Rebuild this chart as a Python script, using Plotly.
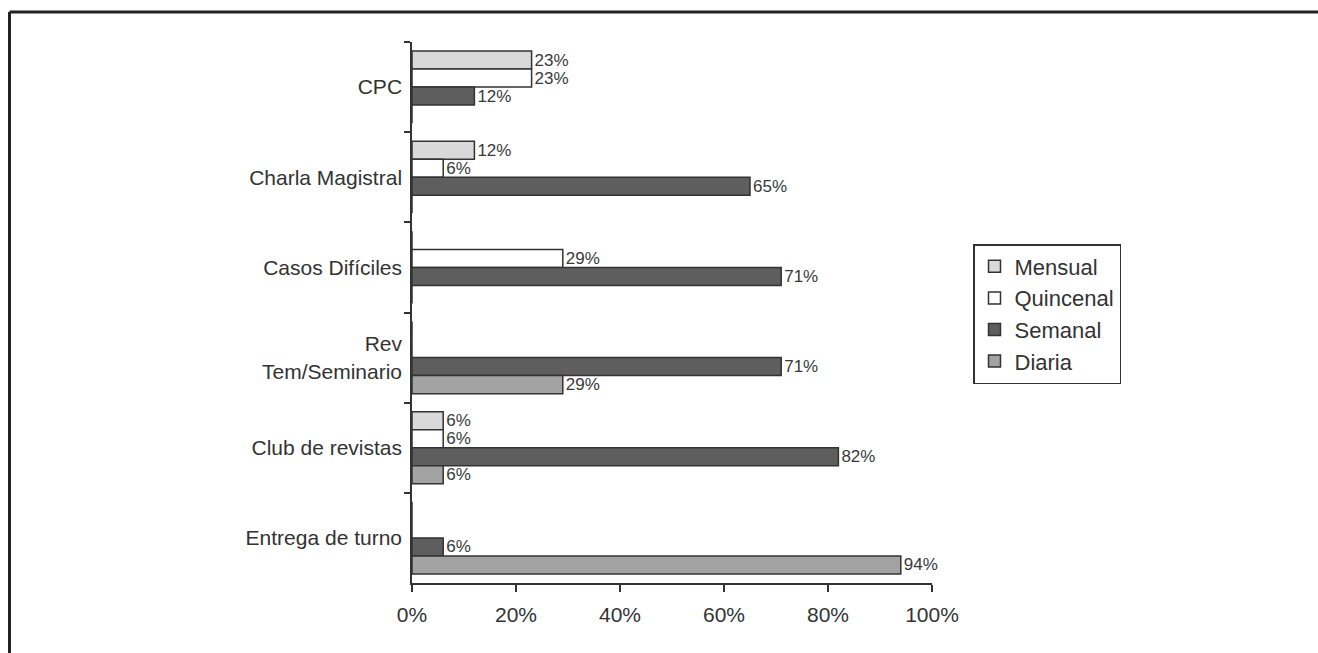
import plotly.graph_objects as go

categories = ["CPC", "Charla Magistral", "Casos Difíciles", "Rev<br>Tem/Seminario",
              "Club de revistas", "Entrega de turno"]
series_names = ["Mensual", "Quincenal", "Semanal", "Diaria"]
mensual = [23, 12, 0, 0, 6, 0]
quincenal = [23, 6, 29, 0, 6, 0]
semanal = [12, 65, 71, 71, 82, 6]
diaria = [0, 0, 0, 29, 6, 94]
series_values = [mensual, quincenal, semanal, diaria]
colors = ["#d9d9d9", "#ffffff", "#5e5e5e", "#a3a3a3"]
x_ticks = [0, 20, 40, 60, 80, 100]
x_tick_labels = ["0%", "20%", "40%", "60%", "80%", "100%"]

fig = go.Figure()
for name, vals, col in zip(series_names, series_values, colors):
    fig.add_trace(go.Bar(
        y=categories, x=vals, name=name, orientation="h",
        marker=dict(color=col, line=dict(color="#333333", width=1.5)),
        text=[f"{v}%" if v > 0 else "" for v in vals],
        textposition="outside", constraintext="none", cliponaxis=False,
        textfont=dict(family="Liberation Sans, Arial", size=17, color="#3a3a3a"),
    ))

L, R, T, B = 412, 386, 42, 70
W, H = 1318, 653
pw, ph = W - L - R, H - T - B

def px_x(p):
    return (p - L) / pw

def px_y(p):
    return (H - B - p) / ph

fig.update_layout(
    width=W, height=H, margin=dict(l=L, r=R, t=T, b=B),
    paper_bgcolor="white", plot_bgcolor="white",
    barmode="group", bargap=0.2, bargroupgap=0,
    font=dict(family="Liberation Sans, Arial", size=21, color="#333333"),
    legend=dict(x=px_x(973), y=px_y(244), xanchor="left", yanchor="top",
                traceorder="normal", bordercolor="#333333", borderwidth=1.5,
                font=dict(size=22, color="#333333"), itemwidth=30,
                bgcolor="white", tracegroupgap=0),
    xaxis=dict(range=[0, 100], tickvals=x_ticks, ticktext=x_tick_labels,
               showgrid=False, zeroline=False, showline=True, linecolor="#333333",
               linewidth=1.5, ticks="outside", ticklen=7, tickcolor="#333333",
               tickwidth=1.5, fixedrange=True, ticklabelstandoff=5,
               tickfont=dict(size=21)),
    yaxis=dict(autorange="reversed", showgrid=False, showline=True,
               linecolor="#333333", linewidth=1.5, ticks="outside", ticklen=6,
               tickcolor="#333333", tickwidth=1.5, tickson="boundaries",
               ticklabelstandoff=4, tickfont=dict(size=21)),
    shapes=[
        dict(type="line", xref="paper", yref="paper", x0=px_x(9.5), x1=px_x(1330),
             y0=px_y(12), y1=px_y(12), line=dict(color="#222222", width=3)),
        dict(type="line", xref="paper", yref="paper", x0=px_x(9.5), x1=px_x(9.5),
             y0=px_y(12), y1=px_y(670), line=dict(color="#222222", width=3)),
    ],
)

fig.write_html("out.html")
